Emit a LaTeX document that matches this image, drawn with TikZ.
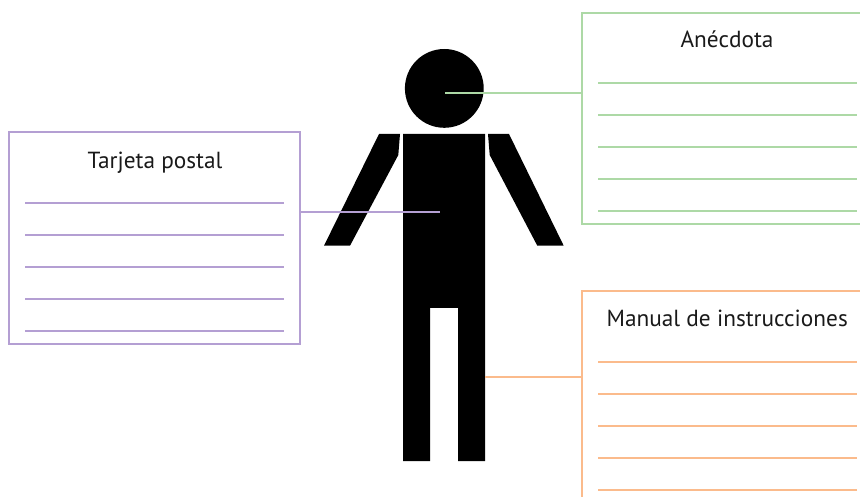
\documentclass[tikz,border=0pt]{standalone}
\usepackage{fontspec}
\setmainfont{PT Sans}
\definecolor{cpurple}{HTML}{B49FD3}
\definecolor{cgreen}{HTML}{ADD9A6}
\definecolor{corange}{HTML}{FBBB8C}
\tikzset{
  figure/.style={fill=black,draw=none},
  rule/.style={line width=2pt},
  frame/.style={line width=2pt},
  title/.style={anchor=base,inner sep=0pt,text=black!90,font=\fontsize{23.3}{28}\selectfont},
}
\begin{document}
\begin{tikzpicture}[x=1pt,y=-1pt]
\useasboundingbox (0,0) rectangle (860,497);
% figure
\node[figure,circle,minimum size=78.8pt,inner sep=0pt,outer sep=0pt] (head) at (444.3,88.4) {};
\fill[black] (403,134) -- (485,134) -- (485,461) -- (458,461) -- (458,308) -- (430,308) -- (430,461) -- (403,461) -- cycle;
\fill[black] (379,134) -- (400,134) -- (398.3,155) -- (350,245.7) -- (324,245.7) -- cycle;
\fill[black] (488,134) -- (509,134) -- (563.7,245.7) -- (537.3,245.7) -- (489.7,155) -- cycle;
\coordinate (headpt) at (445,92.8);
\coordinate (bodypt) at (440,212.5);
\coordinate (legpt) at (485,376.8);
% purple card
\node[draw=cpurple,frame,minimum width=291.4pt,minimum height=211.6pt,inner sep=0pt,outer sep=0pt,anchor=north west] (card) at (9,132.5) {};
\node[title] (cardtitle) at (155,169) {Tarjeta postal};
\foreach \y in {203,235,267,299,331}
  \draw[cpurple,rule] (25,\y) -- (284,\y);
\draw[cpurple,rule] (card.east |- bodypt) -- (bodypt);
% green card
\coordinate (gtr) at (860,13);
\coordinate (gtl) at (581.5,13);
\coordinate (gbl) at (581.5,224);
\coordinate (gbr) at (860,224);
\draw[cgreen,frame] (gtr) -- (gtl) -- (gbl) -- (gbr);
\node[title] (greentitle) at (727,48) {Anécdota};
\foreach \y in {83.5,115.5,147.5,179.5,211.5}
  \draw[cgreen,rule] (598,\y) -- (857,\y);
\draw[cgreen,rule] (headpt) -- (gtl |- headpt);
% orange card
\coordinate (otr) at (860,291.5);
\coordinate (otl) at (581.5,291.5);
\coordinate (obl) at (581.5,497);
\draw[corange,frame] (otr) -- (otl) -- (obl);
\node[title] (orangetitle) at (727.2,326.7) {Manual de instrucciones};
\foreach \y in {361.8,393.8,425.8,457.8,489.8}
  \draw[corange,rule] (598,\y) -- (857,\y);
\draw[corange,rule] (legpt) -- (otl |- legpt);
\end{tikzpicture}
\end{document}
